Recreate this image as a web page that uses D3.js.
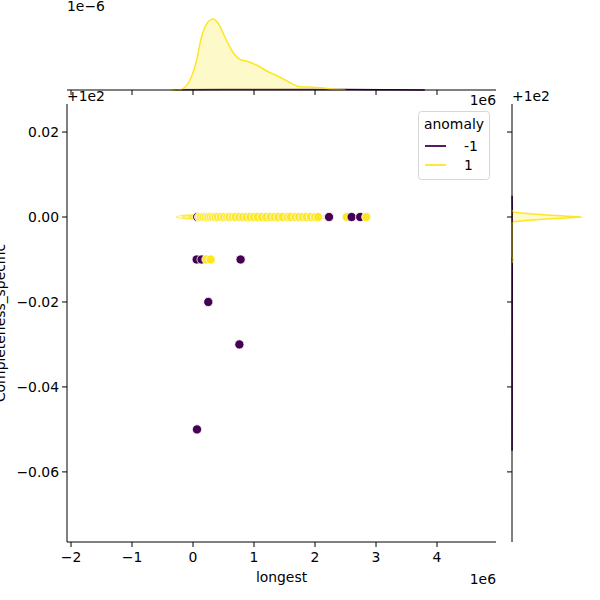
<!DOCTYPE html>
<html>
<head>
<meta charset="utf-8">
<script src="https://cdn.jsdelivr.net/npm/d3@7"></script>
<style>
  body { margin: 0; background: #fff; }
  svg text { font-family: "DejaVu Sans", sans-serif; fill: #000; }
</style>
</head>
<body>
<div id="chart"></div>
<script>
// scatter data (longest in raw units, completeness around 100)
var longest = [70000, 100000, 130000, 170000, 210000, 250000, 290000, 330000, 370000, 410000,
  460000, 510000, 560000, 600000, 650000, 700000, 760000, 820000, 880000, 940000,
  1000000, 1060000, 1130000, 1200000, 1270000, 1340000, 1400000, 1470000, 1550000, 1600000,
  1680000, 1740000, 1800000, 1860000, 1930000, 2000000, 2050000, 2230000, 2520000, 2600000,
  2740000, 2840000,
  60000, 140000, 220000, 290000, 780000, 250000, 760000, 65000];
var completeness = [100, 100, 100, 100, 100, 100, 100, 100, 100, 100,
  100, 100, 100, 100, 100, 100, 100, 100, 100, 100,
  100, 100, 100, 100, 100, 100, 100, 100, 100, 100,
  100, 100, 100, 100, 100, 100, 100, 100, 100, 100,
  100, 100,
  99.99, 99.99, 99.99, 99.99, 99.99, 99.98, 99.97, 99.95];
var anomaly = [-1, 1, 1, 1, 1, 1, 1, 1, 1, 1,
  1, 1, 1, 1, 1, 1, 1, 1, 1, 1,
  1, 1, 1, 1, 1, 1, 1, 1, 1, 1,
  1, 1, 1, 1, 1, 1, 1, -1, 1, -1,
  -1, 1,
  -1, -1, 1, 1, -1, -1, -1, -1];

var hueLevels = [-1, 1];
var hueColors = ["#440154", "#fde725"];

// marginal kde for longest (x in 1e6, density in 1e-6)
var kdeXpos = [-0.35, -0.21, -0.05, 0.06, 0.14, 0.25, 0.33, 0.41, 0.52, 0.63, 0.77, 0.91, 1.04, 1.21, 1.43, 1.59, 1.75, 1.97, 2.14, 2.30, 2.5];
var kdeXyellow = [0, 0.004, 0.119, 0.358, 0.636, 0.815, 0.847, 0.796, 0.636, 0.477, 0.366, 0.338, 0.298, 0.227, 0.152, 0.087, 0.039, 0.032, 0.024, 0.008, 0];
var kdeXposPurple = [-0.3, 0.5, 1.5, 2.5, 3.2, 3.8];
var kdeXpurple = [0.002, 0.006, 0.005, 0.005, 0.003, 0.001];

// marginal kde for completeness (offset from 100, density)
var kdeYpos = [-0.0108, -0.01, -0.0092, -0.0016, -0.0012, -0.0007, -0.00043, -0.0002, 0, 0.0002, 0.00043, 0.0007, 0.0012, 0.0016];
var kdeYyellow = [0, 12, 0, 0, 17, 255, 460, 670, 850, 670, 460, 255, 17, 0];
var kdeYposPurple = [-0.055, -0.03, -0.01, 0, 0.005];
var kdeYpurple = [1, 2, 3, 3, 1];

// joint kde contours (x range in 1e6, half height around 100)
var contourLo = [-0.27, -0.17, -0.08, 0.0];
var contourHi = [2.2, 1.95, 1.6, 1.1];
var contourHalf = [0.00078, 0.0006, 0.00045, 0.0003];

var xTicks = [-2, -1, 0, 1, 2, 3, 4];
var yTicks = [0.02, 0.0, -0.02, -0.04, -0.06];

var W = 600, H = 600;
var svg = d3.select("#chart").append("svg").attr("width", W).attr("height", H);

var mLeft = 67, mRight = 496, mTop = 104, mBottom = 542;
var x = d3.scaleLinear().domain([-2.066e6, 4.967e6]).range([mLeft, mRight]);
var y = d3.scaleLinear().domain([100 - 0.0765, 100 + 0.0266]).range([mBottom, mTop]);

var topMargY = d3.scaleLinear().domain([0, 1.05]).range([90, 2]);
var rightMargX = d3.scaleLinear().domain([0, 1070]).range([512, 600]);

function minusFmt(v, digits) {
  var s = v.toFixed(digits);
  if (Math.abs(v) < 1e-9) s = (0).toFixed(digits);
  return s.replace("-", "\u2212");
}

var fs = 13.9;

// ---------- main axes ----------
var main = svg.append("g");

// joint kde contours
contourLo.forEach(function(lo, i) {
  var x0 = x(lo * 1e6), x1 = x(contourHi[i] * 1e6);
  main.append("ellipse")
    .attr("cx", (x0 + x1) / 2)
    .attr("cy", y(100))
    .attr("rx", (x1 - x0) / 2)
    .attr("ry", y(100 - contourHalf[i]) - y(100))
    .attr("fill", "none")
    .attr("stroke", hueColors[1])
    .attr("stroke-opacity", 0.8 + i * 0.05)
    .attr("stroke-width", 1.3);
});

main.selectAll("circle.pt")
  .data(d3.range(longest.length))
  .enter()
  .append("circle")
  .attr("class", "pt")
  .attr("cx", function(i) { return x(longest[i]); })
  .attr("cy", function(i) { return y(completeness[i]); })
  .attr("r", 4.6)
  .attr("fill", function(i) { return hueColors[hueLevels.indexOf(anomaly[i])]; })
  .attr("stroke", "#fff")
  .attr("stroke-width", 0.8);

// spines
main.append("line").attr("x1", mLeft).attr("x2", mLeft).attr("y1", mTop).attr("y2", mBottom).attr("stroke", "#000").attr("stroke-width", 1);
main.append("line").attr("x1", mLeft).attr("x2", mRight).attr("y1", mBottom).attr("y2", mBottom).attr("stroke", "#000").attr("stroke-width", 1);

xTicks.forEach(function(t) {
  main.append("line").attr("x1", x(t * 1e6)).attr("x2", x(t * 1e6)).attr("y1", mBottom).attr("y2", mBottom + 5).attr("stroke", "#000");
  main.append("text").attr("x", x(t * 1e6)).attr("y", mBottom + 20).attr("text-anchor", "middle").attr("font-size", fs).text(minusFmt(t, 0));
});
yTicks.forEach(function(t) {
  main.append("line").attr("x1", mLeft - 5).attr("x2", mLeft).attr("y1", y(100 + t)).attr("y2", y(100 + t)).attr("stroke", "#000");
  main.append("text").attr("x", mLeft - 8).attr("y", y(100 + t)).attr("dy", "0.35em").attr("text-anchor", "end").attr("font-size", fs).text(minusFmt(t, 2));
});

main.append("text").attr("x", (mLeft + mRight) / 2).attr("y", 582).attr("text-anchor", "middle").attr("font-size", fs).text("longest");
main.append("text").attr("x", mRight).attr("y", 584).attr("text-anchor", "end").attr("font-size", fs).text("1e6");
main.append("text").attr("x", mLeft).attr("y", 101).attr("font-size", fs).text("+1e2");
main.append("text").attr("transform", "translate(4.5," + ((mTop + mBottom) / 2) + ") rotate(-90)")
  .attr("text-anchor", "middle").attr("font-size", fs).text("Completeness_specific");

// legend
var lg = svg.append("g");
lg.append("rect").attr("x", 418.5).attr("y", 111.5).attr("width", 71).attr("height", 68).attr("rx", 3)
  .attr("fill", "#fff").attr("fill-opacity", 0.8).attr("stroke", "#d6d6d6");
lg.append("text").attr("x", 454).attr("y", 129).attr("text-anchor", "middle").attr("font-size", fs).text("anomaly");
hueLevels.forEach(function(h, i) {
  var ly = 146 + i * 19;
  lg.append("line").attr("x1", 425).attr("x2", 446).attr("y1", ly).attr("y2", ly).attr("stroke", hueColors[i]).attr("stroke-width", 1.8);
  lg.append("text").attr("x", 464).attr("y", ly + 5).attr("font-size", fs).text(String(h));
});

// ---------- top marginal ----------
var topG = svg.append("g");
var areaTop = d3.area().curve(d3.curveMonotoneX)
  .x(function(d) { return x(d[0] * 1e6); })
  .y0(topMargY(0))
  .y1(function(d) { return topMargY(d[1]); });
var lineTop = d3.line().curve(d3.curveMonotoneX)
  .x(function(d) { return x(d[0] * 1e6); })
  .y(function(d) { return topMargY(d[1]); });

var topPurple = d3.zip(kdeXposPurple, kdeXpurple);
var topYellow = d3.zip(kdeXpos, kdeXyellow);
[[topPurple, 0], [topYellow, 1]].forEach(function(p) {
  topG.append("path").datum(p[0]).attr("d", areaTop).attr("fill", hueColors[p[1]]).attr("fill-opacity", 0.25);
  topG.append("path").datum(p[0]).attr("d", lineTop).attr("fill", "none").attr("stroke", hueColors[p[1]]).attr("stroke-width", 1.5);
});

topG.append("line").attr("x1", mLeft).attr("x2", mRight).attr("y1", 90).attr("y2", 90).attr("stroke", "#000");
xTicks.forEach(function(t) {
  topG.append("line").attr("x1", x(t * 1e6)).attr("x2", x(t * 1e6)).attr("y1", 90).attr("y2", 95).attr("stroke", "#000");
});
topG.append("text").attr("x", mLeft).attr("y", 11).attr("font-size", fs).text("1e\u22126");
topG.append("text").attr("x", mRight).attr("y", 105).attr("text-anchor", "end").attr("font-size", fs).text("1e6");

// ---------- right marginal ----------
var rG = svg.append("g");
var areaR = d3.area().curve(d3.curveMonotoneY)
  .y(function(d) { return y(100 + d[0]); })
  .x0(rightMargX(0))
  .x1(function(d) { return rightMargX(d[1]); });
var lineR = d3.line().curve(d3.curveMonotoneY)
  .y(function(d) { return y(100 + d[0]); })
  .x(function(d) { return rightMargX(d[1]); });

var rPurple = d3.zip(kdeYposPurple, kdeYpurple);
var rYellow = d3.zip(kdeYpos, kdeYyellow);
[[rPurple, 0], [rYellow, 1]].forEach(function(p) {
  rG.append("path").datum(p[0]).attr("d", areaR).attr("fill", hueColors[p[1]]).attr("fill-opacity", 0.25);
  rG.append("path").datum(p[0]).attr("d", lineR).attr("fill", "none").attr("stroke", hueColors[p[1]]).attr("stroke-width", 1.5);
});

rG.append("line").attr("x1", 512).attr("x2", 512).attr("y1", mTop).attr("y2", mBottom).attr("stroke", "#000");
yTicks.forEach(function(t) {
  rG.append("line").attr("x1", 507).attr("x2", 512).attr("y1", y(100 + t)).attr("y2", y(100 + t)).attr("stroke", "#000");
});
rG.append("text").attr("x", 512).attr("y", 101).attr("font-size", fs).text("+1e2");
</script>
</body>
</html>
